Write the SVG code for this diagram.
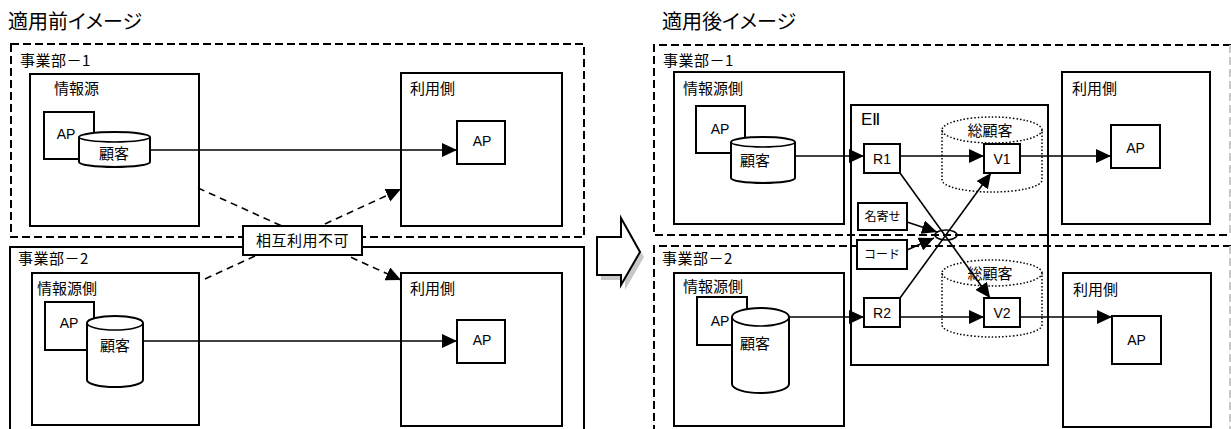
<svg xmlns="http://www.w3.org/2000/svg" width="1231" height="429" viewBox="0 0 1231 429">
  <style>
    .jp { font-family: "Noto Sans CJK JP", "Noto Sans", sans-serif; fill: #000; }
    .en { font-family: "Liberation Sans", Arial, sans-serif; fill: #000; }
    .title { font-size: 20px; font-feature-settings: "palt"; }
    .lbl { font-size: 15px; }
    .sm { font-size: 12px; }
    .ap { font-size: 14px; }
    .box { fill: #fff; stroke: #000; stroke-width: 2; }
    .frame { fill: none; stroke: #000; stroke-width: 2; }
    .dash { fill: none; stroke: #000; stroke-width: 2; stroke-dasharray: 8 4; }
    .dashgray { fill: none; stroke: #c8c8c8; stroke-width: 2; stroke-dasharray: 8 4; }
    .dot { fill: none; stroke: #000; stroke-width: 1.5; stroke-dasharray: 1.5 2; }
    .link { fill: none; stroke: #000; stroke-width: 1.6; marker-end: url(#arrow); }
    .plain { fill: none; stroke: #000; stroke-width: 1.6; }
    .dlink { fill: none; stroke: #000; stroke-width: 1.6; stroke-dasharray: 7 5; marker-end: url(#arrow); }
  </style>
  <defs>
    <marker id="arrow" markerUnits="userSpaceOnUse" markerWidth="16" markerHeight="14" refX="15" refY="7" orient="auto">
      <path d="M0,0 L15,7 L0,14 z" fill="#000"/>
    </marker>
  </defs>

  <rect width="1231" height="429" fill="#fff"/>

  <!-- before -->
  <text class="jp title" x="8" y="29">適用前イメージ</text>

  <g id="div1-before">
    <rect class="dash" x="11" y="44" width="573" height="193"/>
    <text class="jp lbl" x="20" y="66" letter-spacing="0.5">事業部－1</text>
  </g>
  <g id="div2-before">
    <rect class="frame" x="10" y="247" width="574" height="200"/>
    <text class="jp lbl" x="18" y="264" letter-spacing="0.5">事業部－2</text>
  </g>

  <g id="src1-before">
    <rect class="box" x="30" y="74" width="169" height="152"/>
    <text class="jp lbl" x="54" y="94">情報源</text>
    <rect class="box" x="44" y="112" width="50" height="47"/>
    <text class="en ap" x="66" y="139" text-anchor="middle">AP</text>
    <path class="box" d="M79,137 L79,162 A35.5,5 0 0 0 150,162 L150,137 A35.5,5 0 0 0 79,137 z"/>
    <path class="plain" d="M79,137 A35.5,5 0 0 0 150,137"/>
    <text class="jp lbl" x="114" y="159" text-anchor="middle">顧客</text>
  </g>

  <g id="use1-before">
    <rect class="box" x="401" y="73" width="161" height="153"/>
    <text class="jp lbl" x="410" y="94">利用側</text>
    <rect class="box" x="457" y="121" width="48" height="43"/>
    <text class="en ap" x="482" y="146" text-anchor="middle">AP</text>
  </g>

  <g id="src2-before">
    <rect class="box" x="32" y="273" width="167" height="152"/>
    <text class="jp lbl" x="37" y="294">情報源側</text>
    <rect class="box" x="45" y="302" width="49" height="48"/>
    <text class="en ap" x="69" y="328" text-anchor="middle">AP</text>
    <path class="box" d="M87,323 L87,380 A28,7 0 0 0 143,380 L143,323 A28,7 0 0 0 87,323 z"/>
    <path class="plain" d="M87,323 A28,7 0 0 0 143,323"/>
    <text class="jp lbl" x="115" y="351" text-anchor="middle">顧客</text>
  </g>

  <g id="use2-before">
    <rect class="box" x="401" y="273" width="161" height="153"/>
    <text class="jp lbl" x="410" y="294">利用側</text>
    <rect class="box" x="457" y="320" width="48" height="43"/>
    <text class="en ap" x="482" y="345" text-anchor="middle">AP</text>
  </g>

  <g id="links-before">
    <line class="link" x1="150" y1="150" x2="457" y2="150"/>
    <line class="link" x1="143" y1="341" x2="457" y2="341"/>
    <line class="dlink" x1="198" y1="188" x2="401" y2="280"/>
    <line class="dlink" x1="205" y1="279" x2="401" y2="189"/>
  </g>

  <g id="no-reuse">
    <rect class="box" x="243" y="226" width="119" height="29"/>
    <text class="jp lbl" x="302.5" y="246" text-anchor="middle" letter-spacing="0.5">相互利用不可</text>
  </g>

  <!-- transition arrow -->
  <g id="shift">
    <polygon points="597,237 621,237 621,218 640,252 621,285 621,275 597,275" fill="#c8c8c8" transform="translate(4,5)"/>
    <polygon points="597,237 621,237 621,218 640,252 621,285 621,275 597,275" fill="#fff" stroke="#000" stroke-width="2"/>
  </g>

  <!-- after -->
  <text class="jp title" x="662" y="29">適用後イメージ</text>

  <g id="eii">
    <rect class="frame" x="851" y="105" width="197" height="260"/>
    <text class="en" x="861" y="125" font-size="17">EⅡ</text>
  </g>

  <g id="div1-after">
    <path class="dash" d="M1231,45 L654,45 L654,235 L1231,235"/>
    <line class="dashgray" x1="1230" y1="45" x2="1230" y2="235"/>
    <text class="jp lbl" x="663" y="66" letter-spacing="0.5">事業部－1</text>
  </g>
  <g id="div2-after">
    <path class="dash" d="M1231,246 L654,246 L654,440"/>
    <line class="dashgray" x1="1230" y1="246" x2="1230" y2="440"/>
    <text class="jp lbl" x="662" y="264" letter-spacing="0.5">事業部－2</text>
  </g>

  <g id="src1-after">
    <rect class="box" x="674" y="72" width="170" height="152"/>
    <text class="jp lbl" x="683" y="94">情報源側</text>
    <rect class="box" x="696" y="106" width="49" height="47"/>
    <text class="en ap" x="720" y="134" text-anchor="middle">AP</text>
    <path class="box" d="M731,142 L731,178 A32,5 0 0 0 795,178 L795,142 A32,5 0 0 0 731,142 z"/>
    <path class="plain" d="M731,142 A32,5 0 0 0 795,142"/>
    <text class="jp lbl" x="755" y="166" text-anchor="middle">顧客</text>
  </g>

  <g id="src2-after">
    <rect class="box" x="674" y="273" width="170" height="153"/>
    <text class="jp lbl" x="683" y="292">情報源側</text>
    <rect class="box" x="697" y="297" width="50" height="48"/>
    <text class="en ap" x="720" y="326" text-anchor="middle">AP</text>
    <path class="box" d="M732,317 L732,384 A28.5,9 0 0 0 789,384 L789,317 A28.5,9 0 0 0 732,317 z"/>
    <path class="plain" d="M732,317 A28.5,9 0 0 0 789,317"/>
    <text class="jp lbl" x="755" y="349" text-anchor="middle">顧客</text>
  </g>

  <g id="use1-after">
    <rect class="box" x="1062" y="72" width="148" height="152"/>
    <text class="jp lbl" x="1072" y="94">利用側</text>
    <rect class="box" x="1111" y="125" width="49" height="43"/>
    <text class="en ap" x="1135.5" y="153" text-anchor="middle">AP</text>
  </g>

  <g id="use2-after">
    <rect class="box" x="1063" y="273" width="148" height="154"/>
    <text class="jp lbl" x="1073" y="295">利用側</text>
    <rect class="box" x="1112" y="316" width="49" height="48"/>
    <text class="en ap" x="1136.5" y="345" text-anchor="middle">AP</text>
  </g>

  <g id="total1">
    <ellipse class="dot" cx="992" cy="130" rx="50" ry="13"/>
    <path class="dot" d="M942,130 L942,180 A50,12 0 0 0 1042,180 L1042,130"/>
    <text class="jp lbl" x="990" y="136" text-anchor="middle">総顧客</text>
  </g>
  <g id="total2">
    <ellipse class="dot" cx="992" cy="273" rx="50" ry="13"/>
    <path class="dot" d="M942,273 L942,325 A50,12 0 0 0 1042,325 L1042,273"/>
    <text class="jp lbl" x="990" y="279" text-anchor="middle">総顧客</text>
  </g>

  <g id="r1">
    <rect class="box" x="864" y="144" width="36" height="29"/>
    <text class="en ap" x="882" y="164" text-anchor="middle">R1</text>
  </g>
  <g id="r2">
    <rect class="box" x="864" y="298" width="36" height="29"/>
    <text class="en ap" x="882" y="318" text-anchor="middle">R2</text>
  </g>
  <g id="v1">
    <rect class="box" x="984" y="144" width="36" height="29"/>
    <text class="en ap" x="1002" y="164" text-anchor="middle">V1</text>
  </g>
  <g id="v2">
    <rect class="box" x="984" y="298" width="36" height="29"/>
    <text class="en ap" x="1002" y="318" text-anchor="middle">V2</text>
  </g>
  <g id="nayose">
    <rect class="box" x="858" y="203" width="49" height="27"/>
    <text class="jp sm" x="882.5" y="221" text-anchor="middle">名寄せ</text>
  </g>
  <g id="code">
    <rect class="box" x="857" y="240" width="50" height="29"/>
    <text class="jp sm" x="882" y="259" text-anchor="middle">コード</text>
  </g>
  <g id="match">
    <ellipse cx="946" cy="235" rx="11" ry="5" fill="none" stroke="#000" stroke-width="1.6"/>
  </g>

  <g id="links-after">
    <line class="link" x1="795" y1="156" x2="864" y2="156"/>
    <line class="link" x1="900" y1="156" x2="984" y2="156"/>
    <line class="link" x1="1020" y1="156" x2="1111" y2="156"/>
    <line class="link" x1="789" y1="317" x2="864" y2="317"/>
    <line class="link" x1="900" y1="317" x2="984" y2="317"/>
    <line class="link" x1="1020" y1="317" x2="1112" y2="317"/>
    <line class="link" x1="900" y1="173" x2="990" y2="298"/>
    <line class="link" x1="900" y1="298" x2="991" y2="173"/>
    <line class="link" x1="907" y1="222" x2="937" y2="232"/>
    <line class="link" x1="907" y1="250" x2="934" y2="238"/>
  </g>
</svg>
